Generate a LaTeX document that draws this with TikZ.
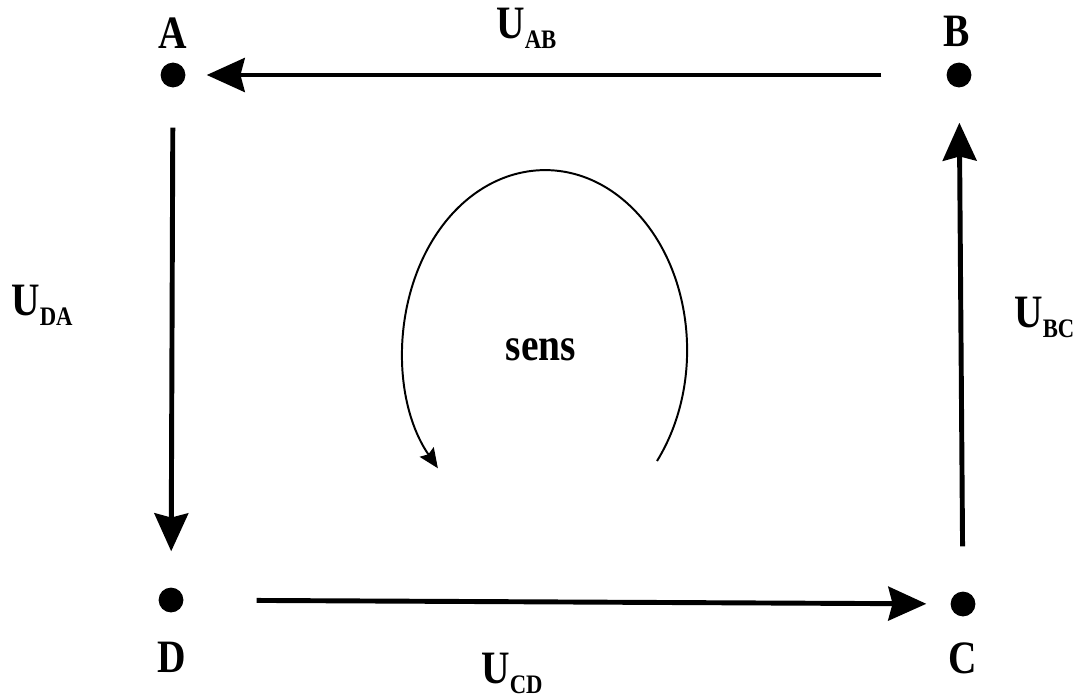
\documentclass[tikz,border=0pt]{standalone}
\usepackage{fontspec}
\setmainfont{Liberation Serif}[FakeStretch=0.85]
\usetikzlibrary{arrows.meta}
\newcommand{\tensU}[1]{U\raisebox{-0.25cm}{\fontsize{19}{19}\selectfont #1}}

\begin{document}
\begin{tikzpicture}[x=0.025cm, y=-0.025cm,
  dot/.style={circle, fill=black, inner sep=0pt, minimum size=0.62cm},
  pname/.style={font=\fontsize{33}{36}\selectfont\bfseries, inner sep=0pt},
  voltlabel/.style={font=\fontsize{33}{36}\selectfont\bfseries, inner sep=0pt,
    anchor=base west},
  wire/.style={line width=3.5pt, -{Stealth[length=27pt, width=24pt, inset=3pt]}},
]
  \useasboundingbox (0,0) rectangle (1085,697);

  % points of the circuit
  \node[dot] (A) at (173,75) {};
  \node[dot] (B) at (959,75) {};
  \node[dot] (C) at (963,604) {};
  \node[dot] (D) at (171,600) {};
  \node[pname] (lA) at (173,33) {A};
  \node[pname] (lB) at (957,31) {B};
  \node[pname] (lC) at (963,658) {C};
  \node[pname] (lD) at (172,657) {D};

  % voltages
  \draw[wire, shorten <=1.625cm, shorten >=0.525cm] (B) -- (A);
  \draw[wire, shorten <=1.0cm, shorten >=0.9cm] (A) -- (D);
  \draw[wire, shorten <=1.825cm, shorten >=0.6cm] (D) -- (C);
  \draw[wire, shorten <=1.125cm, shorten >=0.875cm] (C) -- (B);
  \node[voltlabel] (uab) at (496,38) {\tensU{AB}};
  \node[voltlabel] (uda) at (11,315) {\tensU{DA}};
  \node[voltlabel] (ucd) at (481,683) {\tensU{CD}};
  \node[voltlabel] (ubc) at (1014,327) {\tensU{BC}};

  % direction of travel
  \node[pname] (sens) at (541,350) {sens};
  \coordinate (senstart) at (657,461);
  \draw[line width=1.4pt, -{Stealth[length=14pt, width=12pt, inset=2pt]}]
    (senstart) arc[start angle=-38, end angle=221, x radius=3.55cm, y radius=4.5cm];
\end{tikzpicture}
\end{document}
